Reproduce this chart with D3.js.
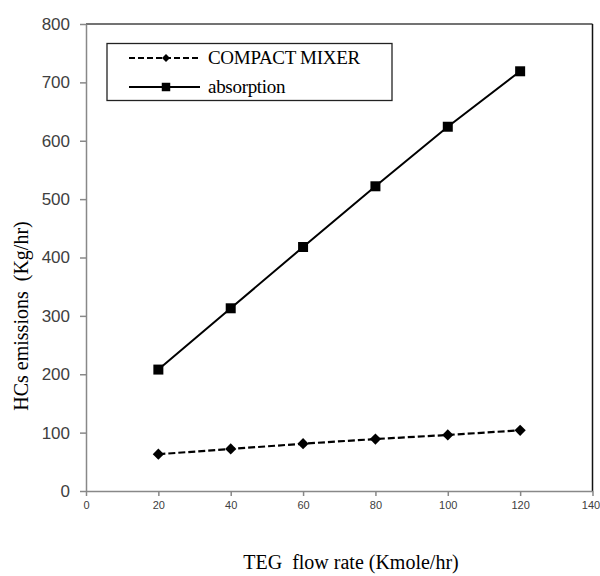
<!DOCTYPE html>
<html>
<head>
<meta charset="utf-8">
<script src="https://cdnjs.cloudflare.com/ajax/libs/d3/7.8.5/d3.min.js"></script>
<style>
  body { margin: 0; background: #fff; }
  svg { display: block; }
</style>
</head>
<body>
<svg width="600" height="576"></svg>
<script>
var flowRate = [20, 40, 60, 80, 100, 120];
var compactMixer = [63, 72, 81, 89, 96, 104];
var absorption = [208, 313, 418, 522, 624, 719];
var xTicks = [0, 20, 40, 60, 80, 100, 120, 140];
var yTicks = [0, 100, 200, 300, 400, 500, 600, 700, 800];
var seriesNames = ["COMPACT MIXER", "absorption"];

var svg = d3.select("svg");

var x = d3.scaleLinear().domain([0, 140]).range([86, 592.5]);
var y = d3.scaleLinear().domain([0, 800]).range([491, 24]);

// frame top / right
svg.append("line")
    .attr("x1", x(0)).attr("x2", x(140)).attr("y1", y(800)).attr("y2", y(800))
    .attr("stroke", "#444").attr("stroke-width", 1.5);
svg.append("line")
    .attr("x1", x(140)).attr("x2", x(140)).attr("y1", y(800)).attr("y2", y(0))
    .attr("stroke", "#111").attr("stroke-width", 1.5);

var yAxis = svg.append("g")
    .attr("transform", "translate(" + x(0) + ",0)")
    .call(d3.axisLeft(y).tickValues(yTicks).tickSize(6).tickSizeOuter(0).tickPadding(10));
yAxis.selectAll("path, line").attr("stroke", "#888").attr("stroke-width", 1.5);
yAxis.selectAll("text")
    .attr("font-family", "Liberation Sans, Arial, sans-serif")
    .attr("font-size", 17)
    .attr("fill", "#404040");

var xAxis = svg.append("g")
    .attr("transform", "translate(0," + y(0) + ")")
    .call(d3.axisBottom(x).tickValues(xTicks).tickSize(5).tickSizeOuter(0).tickPadding(5));
xAxis.selectAll("path, line").attr("stroke", "#888").attr("stroke-width", 1.5);
xAxis.selectAll("text")
    .attr("font-family", "Liberation Sans, Arial, sans-serif")
    .attr("font-size", 11)
    .attr("fill", "#404040")
    .attr("dx", function (d) { return d === 140 ? -2 : 0; });

var line = d3.line()
    .x(function (d) { return x(d[0]); })
    .y(function (d) { return y(d[1]); });

var mixerPts = flowRate.map(function (f, i) { return [f, compactMixer[i]]; });
var absPts = flowRate.map(function (f, i) { return [f, absorption[i]]; });

svg.append("path")
    .datum(mixerPts)
    .attr("d", line)
    .attr("fill", "none")
    .attr("stroke", "#000")
    .attr("stroke-width", 2.2)
    .attr("stroke-dasharray", "7,3");

svg.append("path")
    .datum(absPts)
    .attr("d", line)
    .attr("fill", "none")
    .attr("stroke", "#000")
    .attr("stroke-width", 2);

var diamond = d3.symbol().type(d3.symbolDiamond2).size(80);
var square = d3.symbol().type(d3.symbolSquare).size(100);

svg.selectAll(".mixer-pt")
    .data(mixerPts)
    .enter()
    .append("path")
    .attr("class", "mixer-pt")
    .attr("d", diamond)
    .attr("transform", function (d) { return "translate(" + x(d[0]) + "," + y(d[1]) + ")"; })
    .attr("fill", "#000");

svg.selectAll(".abs-pt")
    .data(absPts)
    .enter()
    .append("path")
    .attr("class", "abs-pt")
    .attr("d", square)
    .attr("transform", function (d) { return "translate(" + x(d[0]) + "," + y(d[1]) + ")"; })
    .attr("fill", "#000");

// legend
var legend = svg.append("g");
legend.append("rect")
    .attr("x", 107).attr("y", 43.5).attr("width", 285).attr("height", 57)
    .attr("fill", "#fff").attr("stroke", "#222").attr("stroke-width", 1.3);

var legRows = [58, 87];
legend.append("line")
    .attr("x1", 129).attr("x2", 200).attr("y1", legRows[0]).attr("y2", legRows[0])
    .attr("stroke", "#000").attr("stroke-width", 2).attr("stroke-dasharray", "6,3");
legend.append("path")
    .attr("d", d3.symbol().type(d3.symbolDiamond2).size(40))
    .attr("transform", "translate(166," + legRows[0] + ")");
legend.append("line")
    .attr("x1", 129).attr("x2", 200).attr("y1", legRows[1]).attr("y2", legRows[1])
    .attr("stroke", "#000").attr("stroke-width", 2);
legend.append("path")
    .attr("d", d3.symbol().type(d3.symbolSquare).size(72))
    .attr("transform", "translate(166," + legRows[1] + ")");

legend.selectAll(".leg-text")
    .data(seriesNames)
    .enter()
    .append("text")
    .attr("class", "leg-text")
    .attr("x", 208)
    .attr("y", function (d, i) { return legRows[i] + 6; })
    .attr("font-family", "Liberation Serif, Times New Roman, serif")
    .attr("font-size", 19)
    .attr("letter-spacing", -0.3)
    .attr("fill", "#000")
    .text(function (d) { return d; });

// axis titles
svg.append("text")
    .attr("x", 351)
    .attr("y", 569)
    .attr("text-anchor", "middle")
    .attr("font-family", "Liberation Serif, Times New Roman, serif")
    .attr("font-size", 20)
    .attr("fill", "#000")
    .style("white-space", "pre")
    .text("TEG  flow rate (Kmole/hr)");

svg.append("text")
    .attr("transform", "translate(28,316) rotate(-90)")
    .attr("text-anchor", "middle")
    .attr("font-family", "Liberation Serif, Times New Roman, serif")
    .attr("font-size", 20)
    .attr("fill", "#000")
    .style("white-space", "pre")
    .text("HCs emissions  (Kg/hr)");
</script>
</body>
</html>
